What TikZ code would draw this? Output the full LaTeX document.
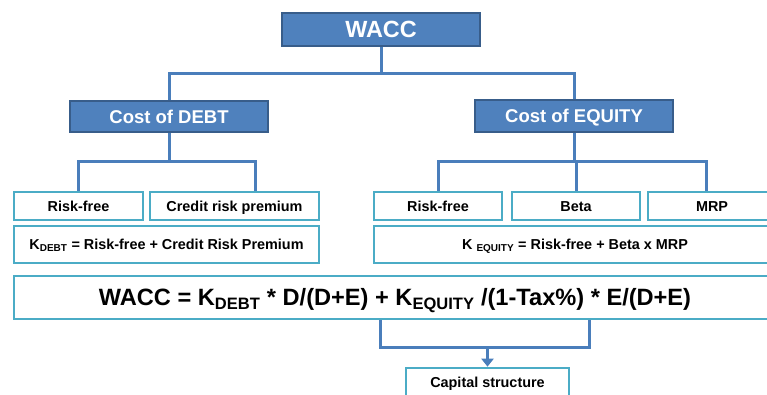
\documentclass[tikz,border=0pt]{standalone}
\usepackage{fontspec}
\setmainfont{Liberation Sans}
\usepackage{tikz}
\usetikzlibrary{arrows.meta, positioning, calc}

\definecolor{darkbox}{HTML}{4F81BD}
\definecolor{darkline}{HTML}{385D8A}
\definecolor{linkblue}{HTML}{4A7EBB}
\definecolor{lightline}{HTML}{4BACC6}

\begin{document}
\begin{tikzpicture}[
    x=1pt, y=-1pt,
    head/.style={rectangle, draw=darkline, line width=2pt, fill=darkbox, text=white, font=\bfseries\fontsize{#1}{#1}\selectfont, text height={0.72*#1pt}, text depth=0pt, minimum height=32pt, inner sep=0pt},
    leaf/.style={rectangle, draw=lightline, line width=2.6pt, fill=white, text=black, font=\bfseries\fontsize{#1}{#1}\selectfont, text height={0.72*#1pt}, text depth=0pt, inner sep=0pt},
    conn/.style={draw=linkblue, line width=3pt}
]
    \useasboundingbox (0,0) rectangle (767,395);

    % top level
    \node[head=23.4, minimum width=198pt, minimum height=33pt] (wacc) at (381,29.5) {WACC};

    % cost of debt / cost of equity
    \node[head=18.5, minimum width=198pt, minimum height=31pt] (debt) at (169,116.5) {Cost of DEBT};
    \node[head=18.5, minimum width=198pt] (equity) at (574,116) {Cost of EQUITY};

    % inputs
    \node[leaf=14.4, minimum width=129pt, minimum height=28pt] (rfd) at (78.5,206) {Risk-free};
    \node[leaf=14.4, minimum width=169pt, minimum height=28pt] (crp) at (234.5,206) {Credit risk premium};
    \node[leaf=14.4, minimum width=128pt, minimum height=28pt] (rfe) at (438,206) {Risk-free};
    \node[leaf=14.4, minimum width=128pt, minimum height=28pt] (beta) at (576,206) {Beta};
    \node[leaf=14.4, minimum width=128pt, minimum height=28pt] (mrp) at (712,206) {MRP};

    % formulas
    \node[leaf=14.4, minimum width=305pt, minimum height=37pt] (kdebt) at (166.5,244.5)
        {K\textsubscript{DEBT} = Risk-free + Credit Risk Premium};
    \node[leaf=14.4, minimum width=402pt, minimum height=37pt] (kequity) at (575,244.5)
        {K \textsubscript{EQUITY} = Risk-free + Beta x MRP};
    \node[leaf=23.6, minimum width=762pt, minimum height=43pt] (formula) at (395,297.5)
        {WACC = K\textsubscript{DEBT} * D/(D+E) + K\textsubscript{EQUITY} /(1-Tax\%) * E/(D+E)};

    % result
    \node[leaf=14.4, minimum width=163pt, minimum height=28pt] (capital) at (487.5,382) {Capital structure};

    % tree lines
    \draw[conn] (wacc.south) -- ++(0,27) -| (debt.north);
    \draw[conn] (wacc.south) -- ++(0,27) -| (equity.north);
    \draw[conn] (debt.south) -- ++(0,29) -| (rfd.north);
    \draw[conn] (debt.south) -- ++(0,29) -| ([xshift=21pt]crp.north);
    \draw[conn] (equity.south) -- ++(0,29) -| (rfe.north);
    \draw[conn] (equity.south) -- ++(0,29) -| (beta.north);
    \draw[conn] (equity.south) -- ++(0,29) -| ([xshift=-6pt]mrp.north);

    % bracket to capital structure
    \coordinate (bl) at (380,347);
    \coordinate (br) at (589,347);
    \draw[conn] (formula.south -| bl) -- (bl) -- (br) -- (formula.south -| br);
    \draw[conn, -{Triangle[width=12pt, length=8pt]}] (bl -| capital.north) -- (capital.north);
\end{tikzpicture}
\end{document}
